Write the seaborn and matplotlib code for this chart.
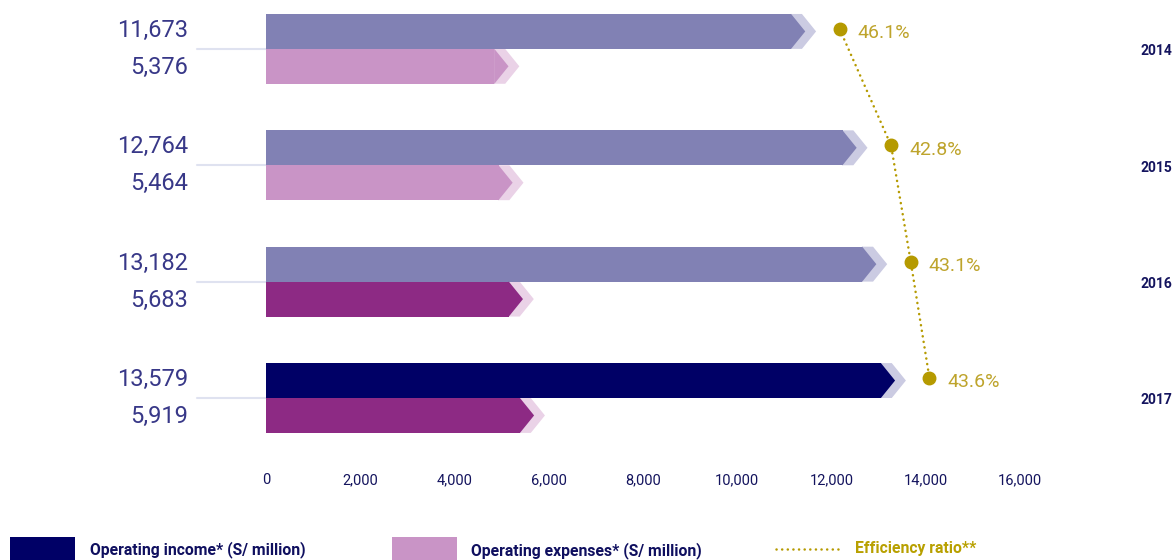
import numpy as np
import pandas as pd
import matplotlib
matplotlib.use("Agg")
import matplotlib.pyplot as plt
import matplotlib.transforms as mtransforms
from matplotlib.patches import Polygon, Rectangle
from matplotlib.lines import Line2D
import seaborn as sns

# ---- data ----
years = ["2014", "2015", "2016", "2017"]
income = [11673, 12764, 13182, 13579]      # Operating income (S/ million)
expenses = [5376, 5464, 5683, 5919]        # Operating expenses (S/ million)
efficiency = [46.1, 42.8, 43.1, 43.6]      # Efficiency ratio (%)
x_ticks = [0, 2000, 4000, 6000, 8000, 10000, 12000, 14000, 16000]

# ---- style ----
income_colors = ["#8181b4", "#8181b4", "#8181b4", "#000066"]
expense_colors = ["#c994c6", "#c994c6", "#8d2a84", "#8d2a84"]
income_light = "#cbcbe2"
expense_light = "#ead2e7"
gold_dot = "#b59a00"
gold_text = "#bea42c"
label_blue = "#383888"
navy_text = "#14145e"
DOTTED = (0, (0.05, 2.2))

sns.set_theme(style="white")
plt.rcParams["font.family"] = ["Roboto", "DejaVu Sans"]

W, H = 1176, 560
fig = plt.figure(figsize=(W / 100, H / 100), dpi=100)
ax = fig.add_axes([266 / W, (H - 462) / H, 754 / W, 462 / H])

TIP = 300      # arrow point length (data units)
OFFSET = 230   # shift of the light chevron behind each bar

df = pd.DataFrame({
    "year": years * 2,
    "series": ["income"] * 4 + ["expenses"] * 4,
    "value": income + expenses,
})
df["body"] = df["value"] - TIP - OFFSET

sns.barplot(data=df, y="year", x="body", hue="series",
            hue_order=["income", "expenses"], order=years,
            palette=["#8181b4", "#c994c6"], orient="h", width=0.6,
            dodge=True, errorbar=None, legend=False, ax=ax,
            linewidth=0, saturation=1)

series_vals = [income, expenses]
series_cols = [income_colors, expense_colors]
series_light = [income_light, expense_light]
for k, cont in enumerate(ax.containers):
    for i, bar in enumerate(cont):
        col = series_cols[k][i]
        bar.set_facecolor(col)
        bar.set_edgecolor("none")
        bar.set_zorder(3)
        top = bar.get_y()
        bot = top + bar.get_height()
        mid = (top + bot) / 2
        end = bar.get_width()
        val = series_vals[k][i]
        light = Polygon([(end - 5, top), (end + OFFSET, top), (val, mid),
                         (end + OFFSET, bot), (end - 5, bot)],
                        closed=True, facecolor=series_light[k],
                        edgecolor="none", zorder=2)
        ax.add_patch(light)
        point = Polygon([(end - 5, top), (end, top), (end + TIP, mid),
                         (end, bot), (end - 5, bot)],
                        closed=True, facecolor=col, edgecolor="none", zorder=3)
        ax.add_patch(point)

ax.set_xlim(0, 16000)
ax.set_ylim(3.55, -0.42)
ax.set_xticks(x_ticks)
ax.set_xticklabels([f"{t:,}" for t in x_ticks], fontsize=10.5, color=navy_text)
ax.tick_params(axis="x", length=0, pad=8)
ax.set_yticks([])
ax.set_xlabel("")
ax.set_ylabel("")
sns.despine(ax=ax, left=True, bottom=True)

# value labels on the left and separators between each pair
blend = mtransforms.blended_transform_factory(fig.transFigure, ax.transData)
for i in range(len(years)):
    ax.text(188 / W, i - 0.16, f"{income[i]:,}", transform=blend, ha="right",
            va="center", fontsize=17, fontweight="normal", color=label_blue)
    ax.text(188 / W, i + 0.16, f"{expenses[i]:,}", transform=blend, ha="right",
            va="center", fontsize=17, fontweight="normal", color=label_blue)
    ax.add_line(Line2D([197 / W, 266 / W], [i, i], transform=blend,
                       color="#dfe2f0", lw=1.5, clip_on=False))
    ax.text(1172 / W, i + 0.02, years[i], transform=blend, ha="right",
            va="center", fontsize=10, fontweight="bold", color=navy_text)

# efficiency ratio dots to the right of the income bars
dot_x = [v + 500 for v in income]
dot_y = [i - 0.17 for i in range(len(years))]
ax.plot(dot_x, dot_y, ls=DOTTED, lw=1.8, color=gold_dot,
        dash_capstyle="round", clip_on=False, zorder=4)
ax.plot(dot_x, dot_y, ls="none", marker="o", ms=9, color=gold_dot,
        clip_on=False, zorder=5)
for x, y, e in zip(dot_x, dot_y, efficiency):
    ax.annotate(f"{e}%", (x, y), xytext=(13, -3), textcoords="offset points",
                ha="left", va="center", fontsize=14, fontweight="normal",
                color=gold_text)

# legend along the bottom edge
fig.add_artist(Rectangle((10 / W, 0), 65 / W, 23 / H, transform=fig.transFigure,
                         facecolor="#000066", edgecolor="none"))
fig.text(90 / W, 10 / H, "Operating income* (S/ million)", fontsize=11.3,
         fontweight="bold", color="#0f0f5f", va="center", ha="left")
fig.add_artist(Rectangle((392 / W, 0), 65 / W, 23 / H, transform=fig.transFigure,
                         facecolor="#c994c6", edgecolor="none"))
fig.text(471 / W, 9 / H, "Operating expenses* (S/ million)", fontsize=11.3,
         fontweight="bold", color="#0f0f5f", va="center", ha="left")
fig.add_artist(Line2D([776 / W, 840 / W], [11 / H, 11 / H], transform=fig.transFigure,
                      color=gold_dot, lw=1.8, ls=DOTTED, dash_capstyle="round"))
fig.text(855 / W, 11 / H, "Efficiency ratio**", fontsize=11.3, fontweight="bold",
         color="#b8a000", va="center", ha="left")

fig.savefig("out.png", dpi=100)
